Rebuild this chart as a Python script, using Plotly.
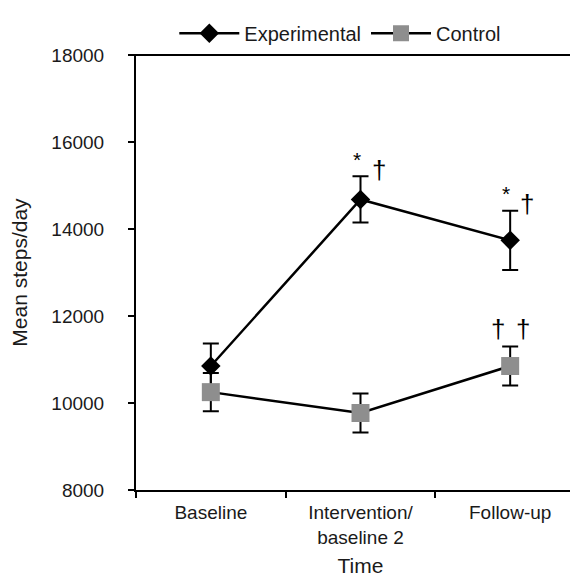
import plotly.graph_objects as go

categories = ["Baseline", "Intervention/<br>baseline 2", "Follow-up"]
exp_mean = [10850, 14680, 13740]
exp_err = [520, 530, 680]
ctl_mean = [10250, 9770, 10850]
ctl_err = [440, 450, 450]
y_ticks = [8000, 10000, 12000, 14000, 16000, 18000]
y_ticktext = ["8000", "10000", "12000", "14000", "16000", "18000"]

# significance markers: (category index, value, text, pixel shift)
sig_cat = [1, 1, 2, 2, 2, 2]
sig_val = [15600, 15360, 14820, 14580, 11700, 11700]
sig_txt = ["*", "†", "*", "†", "†", "†"]
sig_shift = [-4, 18, -4, 17, -12, 13]

font_family = "Liberation Sans, Arial, sans-serif"

fig = go.Figure()
fig.add_trace(go.Scatter(
    x=categories, y=exp_mean, name="Experimental", mode="lines+markers",
    line=dict(color="black", width=2.5),
    marker=dict(symbol="diamond", size=15, color="black"),
    error_y=dict(type="data", array=exp_err, visible=True, color="black", thickness=2, width=8),
))
fig.add_trace(go.Scatter(
    x=categories, y=ctl_mean, name="Control", mode="lines+markers",
    line=dict(color="black", width=2.5),
    marker=dict(symbol="square", size=18, color="#8e8e8e"),
    error_y=dict(type="data", array=ctl_err, visible=True, color="black", thickness=2, width=8),
))

for ci, v, t, s in zip(sig_cat, sig_val, sig_txt, sig_shift):
    fig.add_annotation(x=categories[ci], y=v, text=t, showarrow=False, xshift=s,
                       yanchor="middle", font=dict(size=26 if t == "†" else 21, color="black",
                                                   family=font_family))

# frame: top black line and thin gray right line
fig.add_shape(type="line", xref="paper", yref="paper", x0=-0.014, x1=1.0, y0=1, y1=1,
              line=dict(color="black", width=2))
fig.add_shape(type="line", xref="paper", yref="paper", x0=1.0, x1=1.0, y0=0, y1=1,
              line=dict(color="#9a9a9a", width=1))

fig.update_layout(
    width=578, height=578,
    margin=dict(l=128, r=1, t=47, b=96),
    paper_bgcolor="white", plot_bgcolor="white",
    font=dict(family=font_family, size=19, color="#1a1a1a"),
    showlegend=True,
    legend=dict(orientation="h", x=0.455, xanchor="center", y=1.05, yanchor="middle",
                font=dict(size=20), itemwidth=60, bgcolor="rgba(0,0,0,0)"),
    xaxis=dict(
        type="category", range=[-0.5, 2.5], tickson="boundaries",
        showline=True, linecolor="black", linewidth=2,
        ticks="outside", ticklen=6, tickwidth=2, tickcolor="black",
        showgrid=False, zeroline=False, ticklabelstandoff=4,
        title=dict(text="Time", font=dict(size=21), standoff=12),
        tickfont=dict(size=19),
    ),
    yaxis=dict(
        range=[8000, 18000], tickvals=y_ticks, ticktext=y_ticktext,
        showline=True, linecolor="black", linewidth=2,
        ticks="outside", ticklen=6, tickwidth=2, tickcolor="black",
        showgrid=False, zeroline=False, ticklabelstandoff=20,
        title=dict(text="Mean steps/day", font=dict(size=21), standoff=18),
        tickfont=dict(size=19),
    ),
)

fig.write_html("out.html")
